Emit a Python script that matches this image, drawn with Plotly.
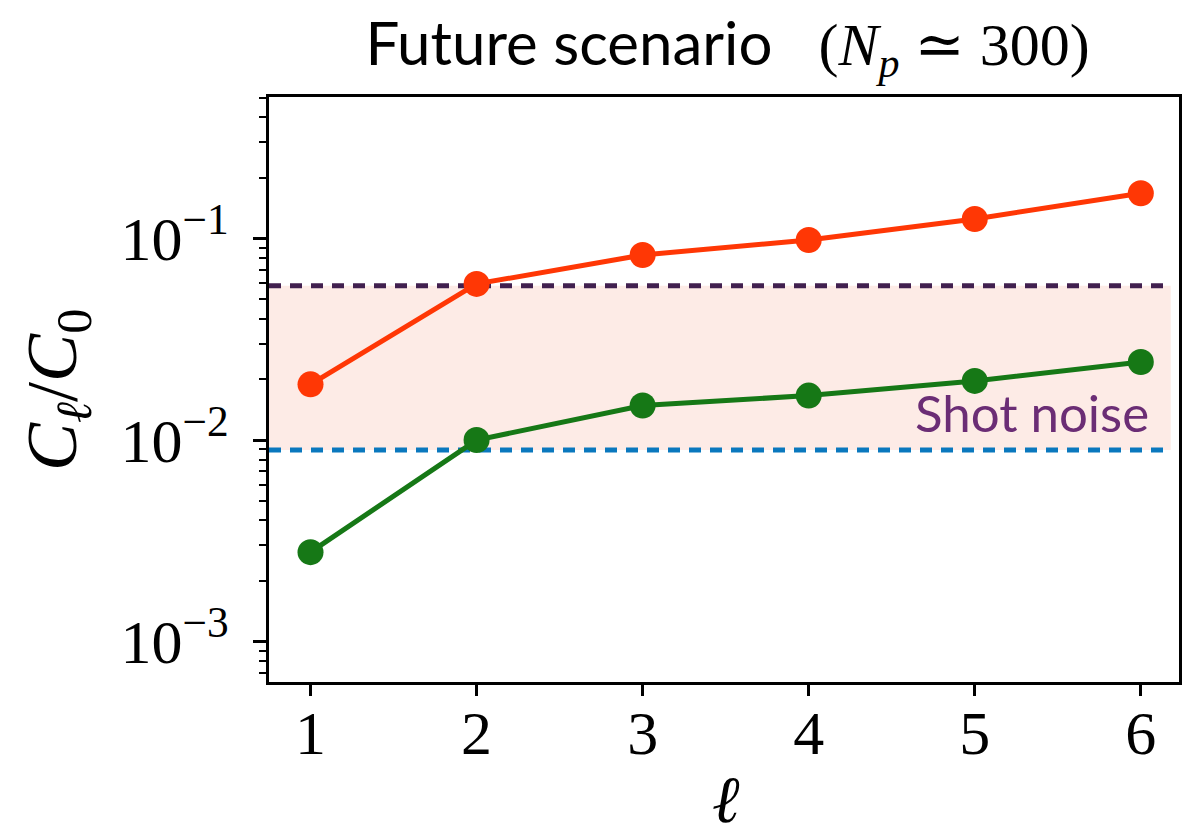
import math
import plotly.graph_objects as go

# multipole index
ell = [1, 2, 3, 4, 5, 6]

# C_ell / C_0 for the two populations
cl_red = [0.0189, 0.0595, 0.0828, 0.0983, 0.1249, 0.1675]
cl_green = [0.00278, 0.0100, 0.01483, 0.01662, 0.01965, 0.0244]

# shot-noise band limits
noise_high = 0.0583
noise_low = 0.00892
band_x = [0.75, 6.18]

# axis ticks
y_major = [1e-3, 1e-2, 1e-1]
y_major_text = ["10<sup>−3</sup>", "10<sup>−2</sup>", "10<sup>−1</sup>"]
y_minor = [m * 10.0 ** k for k in (-4, -3, -2, -1) for m in range(2, 10)]

MATH = "Liberation Serif, DejaVu Serif, serif"
SANS = "Lato, Noto Sans, sans-serif"

RED = "#ff3705"
GREEN = "#167816"
PURPLE = "#41204f"
BLUE = "#0a78be"
PINK = "#fdebe6"

fig = go.Figure()

# shaded shot-noise band
fig.add_trace(go.Scatter(x=band_x, y=[noise_low, noise_low], mode="lines",
                         line=dict(width=0), showlegend=False, hoverinfo="skip"))
fig.add_trace(go.Scatter(x=band_x, y=[noise_high, noise_high], mode="lines",
                         line=dict(width=0), fill="tonexty", fillcolor=PINK,
                         showlegend=False, hoverinfo="skip"))

# dashed reference levels
fig.add_trace(go.Scatter(x=band_x, y=[noise_high, noise_high], mode="lines",
                         line=dict(color=PURPLE, width=5, dash="12px,9px"),
                         showlegend=False))
fig.add_trace(go.Scatter(x=band_x, y=[noise_low, noise_low], mode="lines",
                         line=dict(color=BLUE, width=5, dash="12px,9px"),
                         showlegend=False))

# spectra
fig.add_trace(go.Scatter(x=ell, y=cl_red, mode="lines+markers",
                         line=dict(color=RED, width=5),
                         marker=dict(color=RED, size=26), showlegend=False))
fig.add_trace(go.Scatter(x=ell, y=cl_green, mode="lines+markers",
                         line=dict(color=GREEN, width=5),
                         marker=dict(color=GREEN, size=26), showlegend=False))

axis_common = dict(showline=True, linecolor="black", linewidth=3, mirror=True,
                   showgrid=False, zeroline=False, ticks="outside",
                   tickcolor="black", tickwidth=2.5)

fig.update_xaxes(range=[0.75, 6.23], tickvals=ell, ticklen=11,
                 ticklabelstandoff=-16,
                 tickfont=dict(family=MATH, size=62, color="black"),
                 **axis_common)
fig.update_yaxes(type="log", range=[-3.2, -0.2985], tickvals=y_major,
                 ticktext=y_major_text, ticklen=13, ticklabelstandoff=12,
                 tickfont=dict(family=MATH, size=62, color="black"),
                 minor=dict(tickmode="array", tickvals=y_minor, ticks="outside",
                            ticklen=7, tickwidth=2, tickcolor="black"),
                 **axis_common)

fig.add_annotation(text="Shot noise", xref="x", yref="y", x=6.06,
                   y=math.log10(noise_low), xanchor="right",
                   yanchor="bottom", yshift=5, showarrow=False,
                   font=dict(family=SANS, size=51, color="#6b2d75"))

fig.add_annotation(text="<i>C</i><sub><i>ℓ</i></sub>/<i>C</i><sub>0</sub>",
                   xref="paper", yref="paper", x=-0.2336, y=0.5,
                   xanchor="center", yanchor="middle", textangle=-90,
                   showarrow=False, font=dict(family=MATH, size=72, color="black"))

fig.add_annotation(text="<i>ℓ</i>", xref="paper", yref="paper", x=0.502,
                   y=-0.2, xanchor="center", yanchor="middle",
                   showarrow=False, font=dict(family=MATH, size=66, color="black"))

fig.update_layout(
    width=1194, height=838,
    margin=dict(l=269, r=13, t=97, b=156),
    paper_bgcolor="white", plot_bgcolor="white",
    title=dict(
        text=("Future scenario&nbsp;&nbsp;&nbsp;"
              f"<span style='font-family:{MATH}'>(<i>N</i><sub><i>p</i></sub> ≃ 300)</span>"),
        xref="paper", x=0.504, xanchor="center",
        yref="container", y=0.948, yanchor="middle",
        font=dict(family=SANS, size=60, color="black")),
)

fig.write_html("out.html")
